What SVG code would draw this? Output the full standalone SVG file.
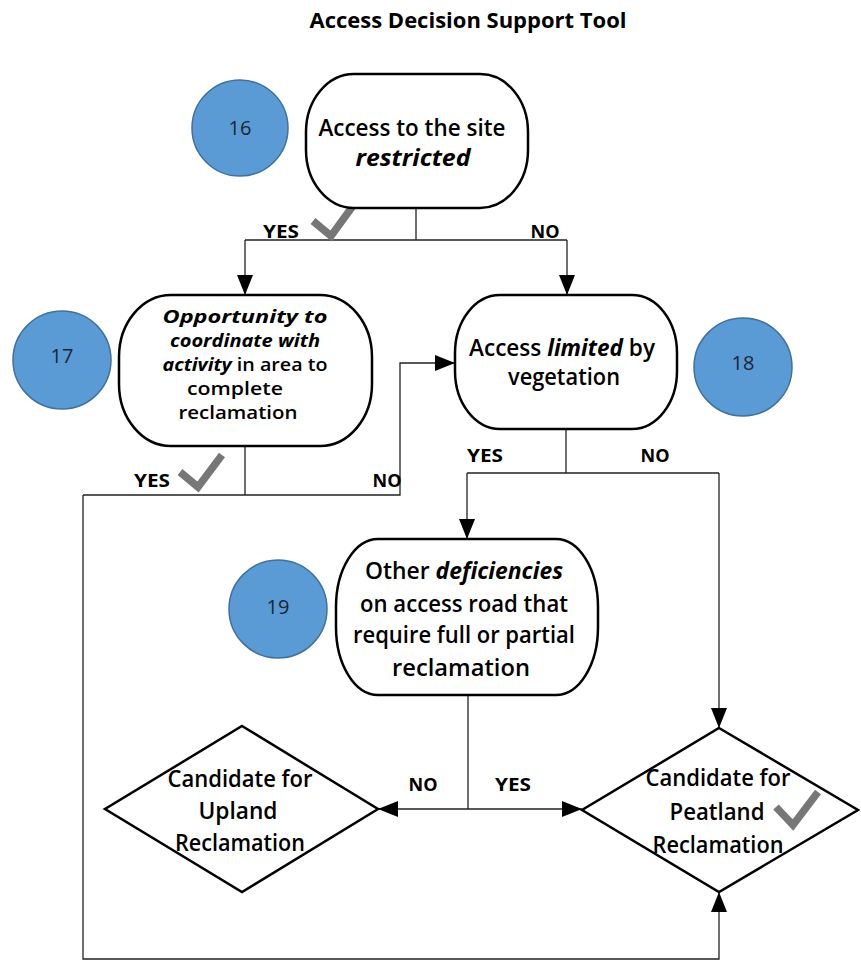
<svg xmlns="http://www.w3.org/2000/svg" width="861" height="964" viewBox="0 0 861 964">
<defs>
<style>
.node{fill:#fff;stroke:#000;stroke-width:2.5}
.num{fill:#5b9bd5;stroke:#41719c;stroke-width:1.5}
.numt{font-family:"Open Sans","Liberation Sans",sans-serif;font-size:20px;fill:#1b2633;text-anchor:middle}
.t{font-family:"Open Sans","Liberation Sans",sans-serif;font-size:22.5px;font-weight:600;fill:#000;text-anchor:middle}
.t17{font-family:"Open Sans","Liberation Sans",sans-serif;font-size:18.5px;font-weight:600;fill:#000;text-anchor:middle}
.bi{font-weight:700;font-style:italic}
.lbl{font-family:"Open Sans","Liberation Sans",sans-serif;font-size:18px;font-weight:700;fill:#000;text-anchor:middle}
.c{fill:none;stroke:#222;stroke-width:1.3}
.chk{fill:none;stroke:#777;stroke-width:7.5;stroke-linejoin:miter;stroke-linecap:butt}
</style>
<marker id="ah" viewBox="0 0 20 16" refX="20" refY="8" markerWidth="20" markerHeight="16" markerUnits="userSpaceOnUse" orient="auto">
<path d="M0,0 L20,8 L0,16 Z" fill="#000"/>
</marker>
</defs>

<text x="468" y="28" font-family="'Open Sans','Liberation Sans',sans-serif" font-size="21.5" font-weight="700" text-anchor="middle" textLength="317" lengthAdjust="spacingAndGlyphs">Access Decision Support Tool</text>

<g id="connectors">
<path class="c" d="M416,208 V240"/>
<path class="c" d="M245,240 H567"/>
<path class="c" d="M245,240 V295" marker-end="url(#ah)"/>
<path class="c" d="M567,240 V295" marker-end="url(#ah)"/>
<path class="c" d="M245,446 V495"/>
<path class="c" d="M83,495 H400 V363 H455" marker-end="url(#ah)"/>
<path class="c" d="M83,495 V959 H719 V892" marker-end="url(#ah)"/>
<path class="c" d="M566,429 V473"/>
<path class="c" d="M467,473 H719"/>
<path class="c" d="M467,473 V539" marker-end="url(#ah)"/>
<path class="c" d="M719,473 V728" marker-end="url(#ah)"/>
<path class="c" d="M468,695 V809"/>
<path class="c" d="M468,809 H378" marker-end="url(#ah)"/>
<path class="c" d="M468,809 H582" marker-end="url(#ah)"/>
</g>

<g id="labels">
<text class="lbl" x="281" y="238" textLength="36" lengthAdjust="spacingAndGlyphs">YES</text>
<path class="chk" d="M313,221 L331,236 L355,203"/>
<text class="lbl" x="545" y="238" textLength="29" lengthAdjust="spacingAndGlyphs">NO</text>
<text class="lbl" x="152" y="487" textLength="36" lengthAdjust="spacingAndGlyphs">YES</text>
<path class="chk" d="M180,472 L198,487 L222,455"/>
<text class="lbl" x="387" y="487" textLength="29" lengthAdjust="spacingAndGlyphs">NO</text>
<text class="lbl" x="485" y="462" textLength="36" lengthAdjust="spacingAndGlyphs">YES</text>
<text class="lbl" x="655" y="462" textLength="29" lengthAdjust="spacingAndGlyphs">NO</text>
<text class="lbl" x="423" y="791" textLength="29" lengthAdjust="spacingAndGlyphs">NO</text>
<text class="lbl" x="513" y="791" textLength="36" lengthAdjust="spacingAndGlyphs">YES</text>
</g>

<g id="circle16"><circle class="num" cx="240" cy="128" r="48"/><text class="numt" x="240" y="135">16</text></g>
<g id="circle17"><circle class="num" cx="62" cy="360" r="49"/><text class="numt" x="62" y="363">17</text></g>
<g id="circle18"><circle class="num" cx="743" cy="367" r="49"/><text class="numt" x="743" y="370">18</text></g>
<g id="circle19"><circle class="num" cx="278" cy="609" r="49"/><text class="numt" x="278" y="614">19</text></g>

<g id="node16">
<rect class="node" x="306" y="74" width="222" height="134" rx="48" ry="58"/>
<text class="t" x="412" y="136" textLength="187" lengthAdjust="spacingAndGlyphs">Access to the site</text>
<text class="t bi" x="413" y="166" textLength="115" lengthAdjust="spacingAndGlyphs">restricted</text>
</g>

<g id="node17">
<rect class="node" x="119" y="295" width="253" height="151" rx="52" ry="62"/>
<text class="t17 bi" x="245" y="323" textLength="165" lengthAdjust="spacingAndGlyphs">Opportunity to</text>
<text class="t17 bi" x="245" y="347" textLength="150" lengthAdjust="spacingAndGlyphs">coordinate with</text>
<text class="t17" x="245" y="371" textLength="165" lengthAdjust="spacingAndGlyphs"><tspan class="bi">activity</tspan> in area to</text>
<text class="t17" x="235" y="395" textLength="96" lengthAdjust="spacingAndGlyphs">complete</text>
<text class="t17" x="238" y="419" textLength="119" lengthAdjust="spacingAndGlyphs">reclamation</text>
</g>

<g id="node18">
<rect class="node" x="455" y="295" width="222" height="134" rx="45" ry="58"/>
<text class="t" x="562" y="356" textLength="186" lengthAdjust="spacingAndGlyphs">Access <tspan class="bi">limited</tspan> by</text>
<text class="t" x="564" y="385" textLength="112" lengthAdjust="spacingAndGlyphs">vegetation</text>
</g>

<g id="node19">
<rect class="node" x="336" y="539" width="262" height="156" rx="42" ry="68"/>
<text class="t" x="464" y="579" textLength="198" lengthAdjust="spacingAndGlyphs">Other <tspan class="bi">deficiencies</tspan></text>
<text class="t" x="464" y="612" textLength="208" lengthAdjust="spacingAndGlyphs">on access road that</text>
<text class="t" x="464" y="643" textLength="222" lengthAdjust="spacingAndGlyphs">require full or partial</text>
<text class="t" x="461" y="676" textLength="138" lengthAdjust="spacingAndGlyphs">reclamation</text>
</g>

<g id="upland">
<polygon class="node" points="242,726 378,809 242,892 105,809"/>
<text class="t" x="240" y="787" textLength="145" lengthAdjust="spacingAndGlyphs">Candidate for</text>
<text class="t" x="238" y="819" textLength="79" lengthAdjust="spacingAndGlyphs">Upland</text>
<text class="t" x="240" y="851" textLength="130" lengthAdjust="spacingAndGlyphs">Reclamation</text>
</g>

<g id="peatland">
<polygon class="node" points="719,728 858,810 719,892 582,810"/>
<text class="t" x="718" y="786" textLength="145" lengthAdjust="spacingAndGlyphs">Candidate for</text>
<text class="t" x="717" y="820" textLength="95" lengthAdjust="spacingAndGlyphs">Peatland</text>
<text class="t" x="718" y="853" textLength="131" lengthAdjust="spacingAndGlyphs">Reclamation</text>
<path class="chk" d="M776,807 L793,825 L818,792"/>
</g>
</svg>
